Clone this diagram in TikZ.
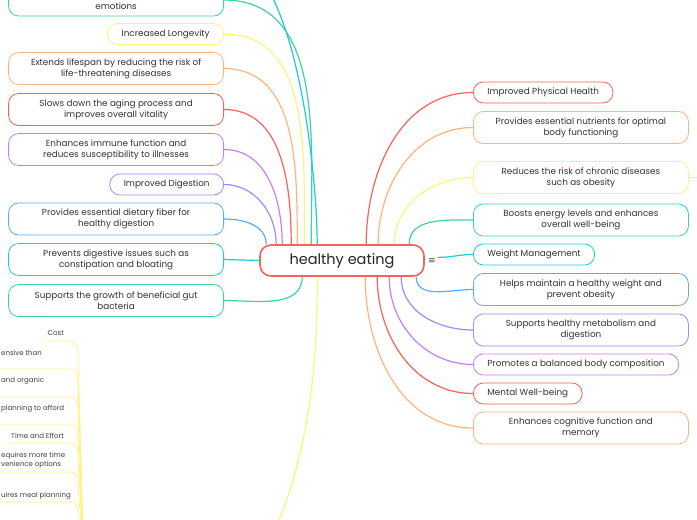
\documentclass[tikz,border=0pt]{standalone}
\usepackage{fontspec}
\setmainfont{Poppins}
\newfontfamily\symfont{DejaVu Sans}
\usetikzlibrary{positioning}
\definecolor{hred}{RGB}{246,98,92}
\definecolor{horange}{RGB}{255,180,128}
\definecolor{hyellow}{RGB}{255,242,128}
\definecolor{hgreen}{RGB}{62,212,160}
\definecolor{hcyan}{RGB}{32,202,216}
\definecolor{hblue}{RGB}{92,172,246}
\definecolor{hviolet}{RGB}{152,142,255}
\definecolor{hpurple}{RGB}{198,128,242}
\begin{document}
\begin{tikzpicture}[
    x=1pt, y=-1pt,
    font=\fontsize{8.8}{11}\selectfont,
    topic/.style={draw=#1, line width=0.8pt, rounded corners=10pt, fill=white, text=black!80,
      minimum height=21pt, inner xsep=14pt, inner ysep=2pt, align=center},
    wide/.style={topic=#1, minimum width=215pt, minimum height=32pt},
    link/.style={draw=#1, line width=1.2pt},
    sub/.style={draw=hyellow, line width=0.7pt},
    leaf/.style={font=\fontsize{7}{8}\selectfont, text=black!75, inner sep=0pt, anchor=east},
    cut/.style={leaf, anchor=west},
  ]
    \useasboundingbox[fill=white] (0,0) rectangle (697,520);

    % central topic
    \node[draw=hred, line width=1.6pt, rounded corners=11pt, fill=white, text=black!85,
      minimum width=164pt, minimum height=31pt, font=\fontsize{14.5}{16}\selectfont] (root) at (342,260.5) {healthy eating};
    \node[font=\symfont\fontsize{9}{9}\selectfont, text=black!70, inner sep=1pt] (menu) at (432,261) {≡};

    % left branches
    \node[wide=hgreen,   anchor=east] (l0) at (224,0)     {\strut\\emotions};
    \node[topic=hyellow, anchor=east] (l1) at (224,34)    {Increased Longevity};
    \node[wide=horange,  anchor=east] (l2) at (224,68.5)  {Extends lifespan by reducing the risk of\\life-threatening diseases};
    \node[wide=hred,     anchor=east] (l3) at (224,109.5) {Slows down the aging process and\\improves overall vitality};
    \node[wide=hpurple,  anchor=east] (l4) at (224,149.5) {Enhances immune function and\\reduces susceptibility to illnesses};
    \node[topic=hviolet, anchor=east] (l5) at (224,184.5) {Improved Digestion};
    \node[wide=hblue,    anchor=east] (l6) at (224,219)   {Provides essential dietary fiber for\\healthy digestion};
    \node[wide=hcyan,    anchor=east] (l7) at (224,259.5) {Prevents digestive issues such as\\constipation and bloating};
    \node[wide=hgreen,   anchor=east] (l8) at (224,300.5) {Supports the growth of beneficial gut\\bacteria};

    % right branches
    \node[topic=hred,    anchor=west] (r1)  at (473,92.5)  {Improved Physical Health};
    \node[wide=horange,  anchor=west] (r2)  at (473,127.5) {Provides essential nutrients for optimal\\body functioning};
    \node[wide=hyellow,  anchor=west] (r3)  at (473,177.5) {Reduces the risk of chronic diseases\\such as obesity};
    \node[wide=hgreen,   anchor=west] (r4)  at (473,220)   {Boosts energy levels and enhances\\overall well-being};
    \node[topic=hcyan,   anchor=west] (r5)  at (473,254.5) {Weight Management};
    \node[wide=hblue,    anchor=west] (r6)  at (473,289.5) {Helps maintain a healthy weight and\\prevent obesity};
    \node[wide=hviolet,  anchor=west] (r7)  at (473,330)   {Supports healthy metabolism and\\digestion};
    \node[topic=hpurple, anchor=west] (r8)  at (473,364.5) {Promotes a balanced body composition};
    \node[topic=hred,    anchor=west] (r9)  at (473,393.5) {Mental Well-being};
    \node[wide=horange,  anchor=west] (r10) at (473,428)   {Enhances cognitive function and\\memory};

    % off-page ends
    \coordinate (cyo) at (224,-45);
    \coordinate (dno) at (262,560);
    \coordinate (rto) at (712,177.5);
    \coordinate (trunk) at (84,560);

    % connectors
    \foreach \n/\dx/\c in {l0/52/hgreen, l1/45/hyellow, l2/38/horange, l3/32/hred,
                           l4/23/hpurple, l5/17/hviolet, l6/7/hblue}
      \draw[link=\c] (\n.east) to[out=0,in=90] ([xshift=\dx pt]root.north west);
    \draw[link=hcyan] (cyo) to[out=0,in=90,looseness=0.6] ([xshift=58pt]root.north west);
    \draw[link=hcyan] (l7.east) -- (root.west);
    \draw[link=hgreen] (l8.east) to[out=0,in=-90] ([xshift=43pt]root.south west);
    \draw[link=hyellow] ([xshift=58pt]root.south west) .. controls (318,400) and (300,480) .. (dno);

    \foreach \n/\dx/\c in {r1/107/hred, r2/119/horange, r3/135/hyellow, r4/150/hgreen}
      \draw[link=\c] ([xshift=\dx pt]root.north west) to[out=90,in=180] (\n.west);
    \draw[link=hcyan] ([xshift=1pt]menu.north east) to[out=0,in=180] (r5.west);
    \foreach \n/\dx/\c in {r6/157/hblue, r7/142/hviolet, r8/130/hpurple, r9/118/hred, r10/106/horange}
      \draw[link=\c] ([xshift=\dx pt]root.south west) to[out=-90,in=180] (\n.west);
    \draw[link=hyellow] (r3.east) -- (rto);

    % lower left sub-topics
    \node[leaf] (c0) at (64,333) {Cost};
    \node[cut]  (c1) at (1,353)  {ensive than};
    \node[cut]  (c2) at (1,381)  {and organic};
    \node[cut]  (c3) at (1,409)  {planning to afford};
    \node[leaf] (t0) at (64,436) {Time and Effort};
    \node[cut]  (t1) at (1,456)  {equires more time};
    \node[cut]  (t2) at (1,465)  {venience options};
    \node[cut]  (t3) at (1,496)  {uires meal planning};
    \foreach \xa/\yu in {45/341, -5/369, -5/397, -5/425, 7/443, -5/472, -5/502}
      \draw[sub] (\xa,\yu) -- (70,\yu) .. controls (77,\yu) and (78,\yu+6) .. (78,\yu+14) -- (trunk);
\end{tikzpicture}
\end{document}
